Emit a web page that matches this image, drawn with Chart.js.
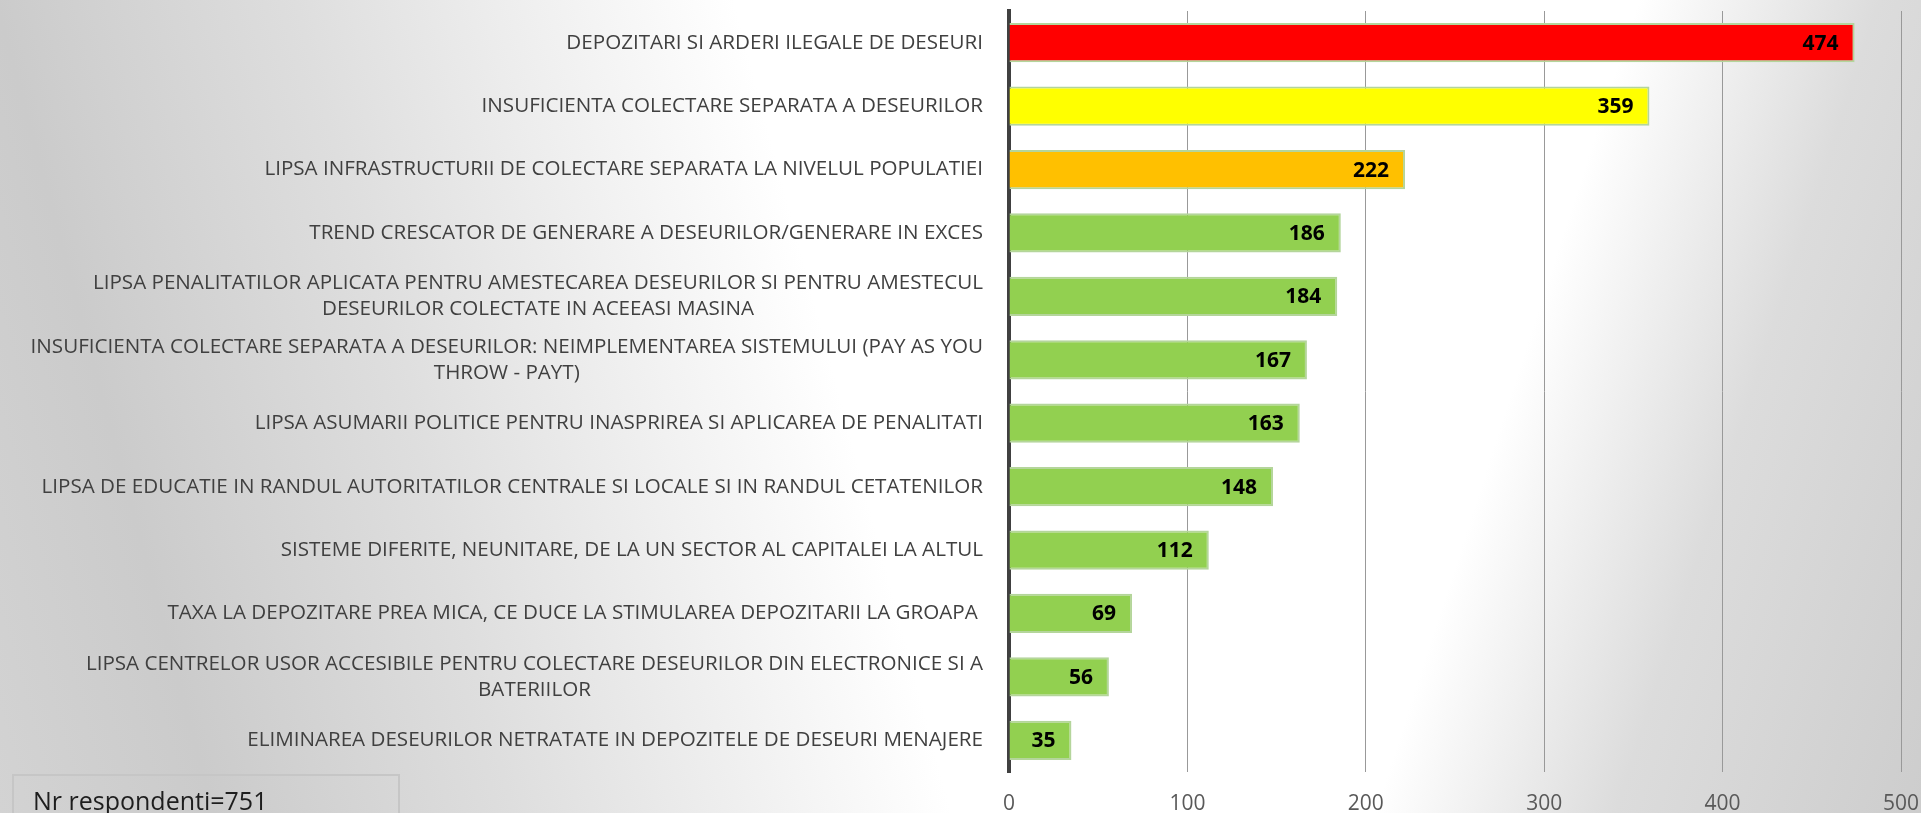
<!DOCTYPE html>
<html>
  <head>
    <meta charset="utf-8" />
    <script src="https://cdn.jsdelivr.net/npm/chart.js"></script>
    <title>Probleme deseuri</title>
    <style>
      body {
        margin: 0;
        overflow: hidden;
      }
      #wrap {
        position: relative;
        width: 1921px;
        height: 813px;
        background:
          linear-gradient(108deg, rgba(206, 206, 206, 0) 75%, rgba(220, 220, 220, 1) 86%, rgba(205, 205, 205, 1) 100%),
          linear-gradient(75deg, #d3d3d3 0%, #cbcbcb 10%, #dedede 24%, #ffffff 44.5%);
      }
      #nr {
        position: absolute;
        left: 12px;
        top: 774px;
        width: 388px;
        height: 60px;
        border: 2px solid #c6c6c6;
        box-sizing: border-box;
        font-family: "Open Sans", sans-serif;
        font-size: 25px;
        color: #1e1e1e;
        padding: 12px 0 0 19px;
        line-height: 1;
      }
    </style>
  </head>
  <body>
    <div id="wrap">
      <canvas id="chart"></canvas>
      <div id="nr">Nr respondenti=751</div>
    </div>

    <script>
      // categorii (de sus in jos)
      var categories = [
        "DEPOZITARI SI ARDERI ILEGALE DE DESEURI",
        "INSUFICIENTA COLECTARE SEPARATA A DESEURILOR",
        "LIPSA INFRASTRUCTURII DE COLECTARE SEPARATA LA NIVELUL POPULATIEI",
        "TREND CRESCATOR DE GENERARE A DESEURILOR/GENERARE IN EXCES",
        ["LIPSA PENALITATILOR APLICATA PENTRU AMESTECAREA DESEURILOR SI PENTRU AMESTECUL", "DESEURILOR COLECTATE IN ACEEASI MASINA"],
        ["INSUFICIENTA COLECTARE SEPARATA A DESEURILOR: NEIMPLEMENTAREA SISTEMULUI (PAY AS YOU", "THROW - PAYT)"],
        "LIPSA ASUMARII POLITICE PENTRU INASPRIREA SI APLICAREA DE PENALITATI",
        "LIPSA DE EDUCATIE IN RANDUL AUTORITATILOR CENTRALE SI LOCALE SI IN RANDUL CETATENILOR",
        "SISTEME DIFERITE, NEUNITARE, DE LA UN SECTOR AL CAPITALEI LA ALTUL",
        "TAXA LA DEPOZITARE PREA MICA, CE DUCE LA STIMULAREA DEPOZITARII LA GROAPA ",
        ["LIPSA CENTRELOR USOR ACCESIBILE PENTRU COLECTARE DESEURILOR DIN ELECTRONICE SI A", "BATERIILOR"],
        "ELIMINAREA DESEURILOR NETRATATE IN DEPOZITELE DE DESEURI MENAJERE",
      ];

      // numar de raspunsuri
      var values = [474, 359, 222, 186, 184, 167, 163, 148, 112, 69, 56, 35];

      var barColors = [
        "#ff0000", "#ffff00", "#ffc000", "#92d050", "#92d050", "#92d050",
        "#92d050", "#92d050", "#92d050", "#92d050", "#92d050", "#92d050",
      ];

      // axa X
      var xTicks = [0, 100, 200, 300, 400, 500];

      var LABEL_RIGHT = 983;
      var LINE_H = 26;

      // etichete categorii (linii centrate intre ele, blocul aliniat la dreapta)
      var categoryLabels = {
        id: "categoryLabels",
        afterDraw: function (chart) {
          var ctx = chart.ctx;
          var yScale = chart.scales.y;
          ctx.save();
          ctx.font = '20.6px "Open Sans", sans-serif';
          ctx.fillStyle = "#404040";
          ctx.textAlign = "center";
          ctx.textBaseline = "middle";
          categories.forEach(function (lab, i) {
            var lines = Array.isArray(lab) ? lab : [lab];
            var y = yScale.getPixelForValue(i);
            var w = Math.max.apply(null, lines.map(function (l) { return ctx.measureText(l).width; }));
            var cx = LABEL_RIGHT - w / 2;
            lines.forEach(function (l, k) {
              ctx.fillText(l, cx, y + (k - (lines.length - 1) / 2) * LINE_H);
            });
          });
          ctx.restore();
        },
      };

      // valori pe bare
      var valueLabels = {
        id: "valueLabels",
        afterDatasetsDraw: function (chart) {
          var ctx = chart.ctx;
          var meta = chart.getDatasetMeta(0);
          ctx.save();
          ctx.font = 'bold 21px "Open Sans", sans-serif';
          ctx.fillStyle = "#000000";
          ctx.textAlign = "right";
          ctx.textBaseline = "middle";
          meta.data.forEach(function (bar, i) {
            ctx.fillText(values[i], bar.x - 16, bar.y + 1);
          });
          ctx.restore();
        },
      };

      var ctx = document.getElementById("chart").getContext("2d");
      new Chart(ctx, {
        type: "bar",
        data: {
          labels: categories,
          datasets: [
            {
              data: values,
              backgroundColor: barColors,
              borderColor: "#b4d59b",
              borderWidth: 2,
              borderSkipped: "start",
              categoryPercentage: 1,
              barPercentage: 0.62,
            },
          ],
        },
        options: {
          indexAxis: "y",
          responsive: true,
          maintainAspectRatio: false,
          animation: false,
          layout: {
            padding: { left: 0, right: 20, top: 11, bottom: 0 },
          },
          plugins: {
            legend: { display: false },
            tooltip: { enabled: false },
          },
          scales: {
            x: {
              min: 0,
              max: 500,
              afterBuildTicks: function (scale) {
                scale.ticks = xTicks.map(function (v) { return { value: v }; });
              },
              afterFit: function (scale) {
                scale.height = 41;
                scale.paddingLeft = 0;
                scale.paddingRight = 0;
              },
              grid: { color: "#999999", lineWidth: 1, drawTicks: false },
              border: { display: false },
              ticks: {
                padding: 19,
                color: "#595959",
                font: { family: "Open Sans", size: 21 },
              },
            },
            y: {
              z: 1,
              afterFit: function (scale) {
                scale.width = 1009;
              },
              grid: { display: false, drawTicks: false },
              border: { display: true, color: "#404040", width: 4 },
              ticks: { display: false },
            },
          },
        },
        plugins: [categoryLabels, valueLabels],
      });
    </script>
  </body>
</html>
